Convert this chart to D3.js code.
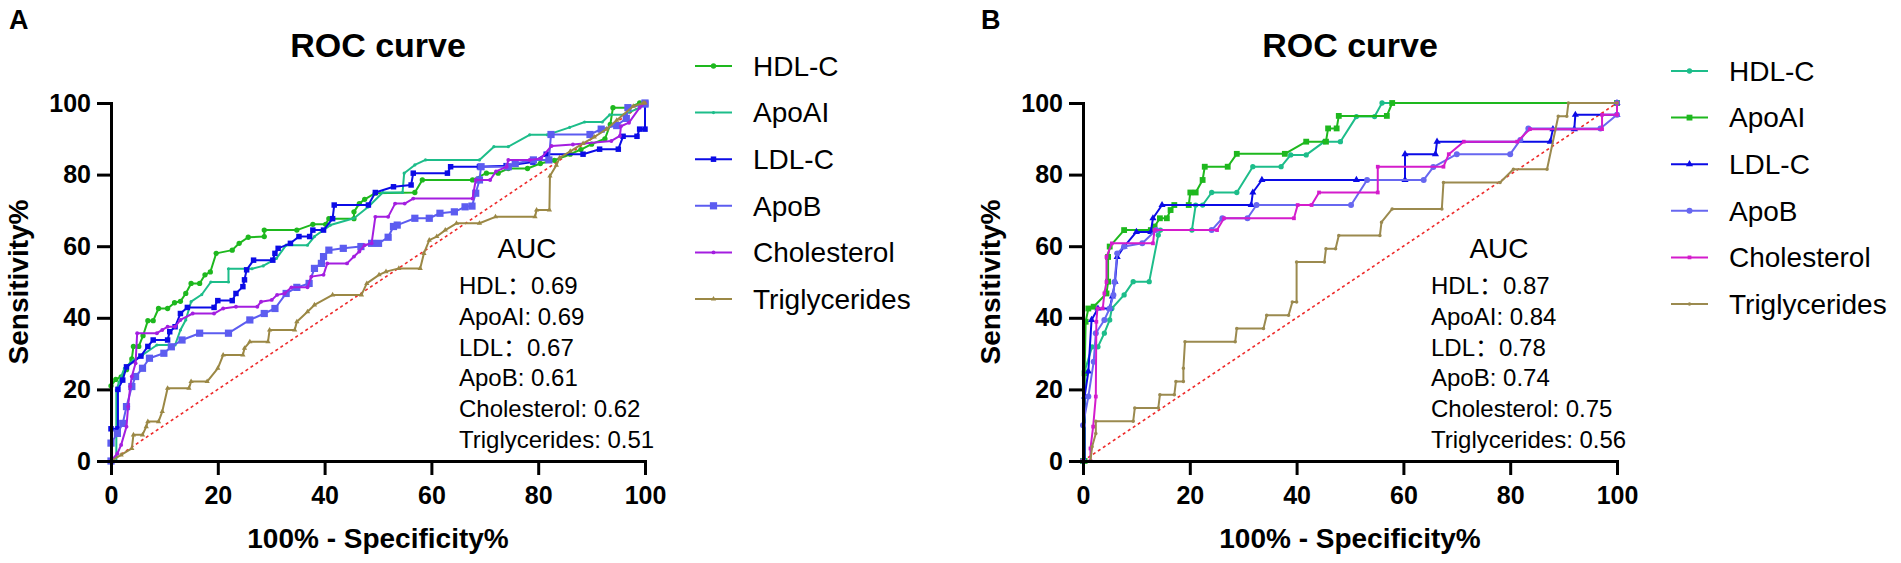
<!DOCTYPE html>
<html>
<head>
<meta charset="utf-8">
<script src="https://cdn.jsdelivr.net/npm/d3@7"></script>
<style>
  body { margin: 0; background: #fff; }
  svg text { font-family: "Liberation Sans", Arial, sans-serif; }
  svg text.auc { font-family: "Liberation Sans", "Noto Sans CJK SC", sans-serif; }
</style>
</head>
<body>
<div id="chart"></div>
<script>
// ---- data (x = 100% - specificity%, y = sensitivity%) ----
const seriesNames = ["HDL-C", "ApoAI", "LDL-C", "ApoB", "Cholesterol", "Triglycerides"];
const tickValues = [0, 20, 40, 60, 80, 100];

// panel A
const hdlA = [[0,0],[0,21],[0.9,22.8],[1.9,23.5],[2.9,25.5],[3.9,28.5],[4.2,32],[5.2,32],[6,35],[6.9,39.2],[7.9,39.2],[8.9,42.6],[10.6,42.6],[11.9,44.2],[13,44.6],[14,46.8],[15,49.6],[16.6,49.6],[17.6,52],[18.6,52.8],[19.7,58],[22.7,58.9],[24,60.8],[25.7,62.5],[28.7,62.7],[28.7,64.5],[34.8,64.5],[37.8,66.1],[40.2,66.1],[40.8,67.7],[45.5,67.7],[45.5,69.6],[46.5,71.9],[47.5,73.1],[49.5,74.8],[56.9,75],[58.3,78.5],[67.7,78.5],[70.3,80.4],[72.5,80.4],[74.4,81.7],[78,81.7],[80.4,83.1],[83,84],[86,85.7],[88,87],[90,88.5],[92.5,90],[93.5,94],[94,98.7],[97,98.7],[99,100],[100,100]];
const apoaiA = [[0,0],[1,0],[1,19.8],[1.5,22],[2.5,25.9],[4.2,28.2],[5.9,29.6],[8.6,32.4],[12,32.4],[13,36.6],[14,39.4],[15,44.5],[17,46.5],[18.7,50],[22,50],[22,53.7],[26.4,53.7],[28.5,54.5],[31,56.6],[32.8,60.3],[36.8,60.3],[38.1,62.7],[41.1,65.9],[45.5,67.8],[48.2,71],[50.9,75],[54.6,75],[54.9,80.4],[56.9,82.7],[58.9,84.1],[69,84.1],[71.7,87.8],[74.4,87.8],[78.4,91.1],[81.7,91.1],[85.9,93.2],[88.7,94.7],[92,94.7],[93.4,96.7],[96,96.7],[99,98.7],[100,100]];
const ldlA = [[0,0],[0,9],[1.3,9],[1.3,20],[2.2,22.6],[2.9,26.3],[5.6,29.3],[6.9,32],[7.9,33.8],[10.6,33.8],[11,36.1],[12,37.5],[13,41.2],[14.3,42.9],[19.3,42.9],[20,44.8],[22.7,44.8],[23.4,46.8],[24.7,48.7],[25,50.6],[25.4,53.4],[26.7,56.1],[30.3,56.1],[30.7,58],[31.3,59.4],[33.6,60.8],[35.2,62.7],[37.2,62.7],[37.8,64.5],[39.8,64.5],[41.5,67.7],[41.8,71.5],[48.2,71.5],[49.5,75],[52.9,76.6],[56.2,77.1],[56.6,80.4],[63,80.4],[63.6,82.2],[69,82.2],[74,82.5],[79,83.5],[81.5,85.7],[88.4,85.7],[91.5,87.1],[95,87.1],[95.9,90.7],[98.5,90.7],[99,92.7],[100,92.7],[100,100]];
const apobA = [[0,0],[0,5],[1.2,7.7],[2.2,10.5],[2.9,15.2],[3.9,20.8],[4.6,23.6],[5.9,25.9],[7.2,28.7],[9.9,30.1],[11.3,31.9],[13.3,33.8],[16.6,35.7],[22,35.7],[26,39.4],[28.7,41.2],[30.7,42.6],[32.8,46.8],[34.8,48.5],[37.1,49.6],[38.1,53.8],[39.4,55.2],[39.8,57.1],[40.8,58.9],[43.5,59.4],[46.8,59.9],[48.8,60.8],[50.1,60.8],[51.9,62.5],[52.9,65.5],[53.6,65.9],[56.9,67.8],[59.6,67.8],[61.6,69.2],[64.3,69.6],[66.3,71],[67.6,71.2],[68.3,74.8],[69,78.5],[69.3,82.2],[74.4,82.2],[75.7,83.1],[79.1,84.1],[82,84.1],[82.4,91.2],[89.7,91.2],[91.8,92.7],[94.7,93.7],[96.5,95.7],[96.8,98.7],[100,99.7],[100,100]];
const cholA = [[0,0],[1.2,2.1],[1.9,4.5],[2.9,9.6],[3.2,15.2],[3.6,20.8],[3.9,23.6],[4.6,27.3],[4.9,35.7],[8.6,35.7],[9.6,36.6],[10.6,37.5],[12,37.5],[13,39.4],[15.3,41.2],[19.3,41.2],[21,42.6],[23.4,43.1],[27.4,43.1],[28.1,44.5],[30.1,45],[31.1,46.4],[32.5,46.8],[33.8,48.5],[36.8,48.5],[37.5,51.5],[39.8,52],[40.5,55.2],[44.2,55.2],[45.5,57.1],[46.5,58.5],[47.5,60.3],[48.8,60.8],[49.5,68.2],[51.9,68.2],[53.2,71.9],[55,71.9],[56.6,73.3],[67.7,73.3],[68.3,78.5],[71,78.5],[72.1,80.9],[74.1,82.2],[74.4,84.1],[78.4,84.1],[80.5,84.5],[82.5,88],[86.5,88.4],[93.7,89.4],[95.3,90.8],[95.5,93.5],[97,94.5],[99,98.7],[100,100]];
const trigA = [[0,0],[1.9,1.7],[3.9,3.5],[4.2,7.3],[5.9,7.3],[6.6,9.6],[6.9,11],[8.9,11],[9.6,13.8],[10.6,20.3],[14.6,20.3],[15,22.2],[18,22.2],[20,25.9],[21,29.6],[24.7,29.6],[25,31.5],[26,33.3],[29.4,33.3],[29.7,36.6],[34.4,36.6],[34.8,38.9],[36.8,41.7],[38.1,43.6],[41.5,46.4],[46.9,46.4],[47.9,49.6],[50.2,52],[51.5,52.9],[53.9,53.8],[57.9,53.8],[58.6,58],[59.6,61.7],[61,62.7],[62.6,64.5],[64.7,66.4],[69,66.4],[72,68.2],[79.4,68.2],[79.7,70.1],[82.1,70.1],[82.2,79.6],[83.4,82.6],[84,84.7],[86,86.5],[88.4,88.7],[90.5,90.5],[92.8,92.7],[94.7,95.2],[97.8,99.1],[99.7,100],[100,100]];
const aucA = ["HDL\uFF1A0.69", "ApoAI: 0.69", "LDL\uFF1A0.67", "ApoB: 0.61", "Cholesterol: 0.62", "Triglycerides: 0.51"];

// panel B
const hdlB = [[0,0],[0.3,0],[0.3,25],[1.7,31.9],[2.8,31.9],[4,35.7],[5,39.4],[5.4,42.6],[7.7,46.4],[9.4,50.1],[12.4,50.1],[14.1,63.1],[14.5,64.5],[20.4,64.5],[21.1,71.5],[22.4,71.5],[24.1,75],[28.8,75],[31.8,82.2],[37.1,82.2],[38.9,85.5],[41.8,85.5],[45.2,89.2],[48.2,89.2],[51.2,96.2],[54.6,96.2],[56,100],[100,100]];
const apoaiB = [[0,0],[0.3,0],[0.3,24.5],[0.5,38.9],[1,42.6],[2,43.1],[4.4,46.8],[4.7,50.1],[4.7,57],[5,59.9],[7.7,64.5],[12.7,64.5],[13.4,65.5],[14.4,67.8],[15.7,67.8],[16.4,70.1],[17.1,71.5],[19.8,71.5],[20.1,75],[21.1,75],[22.4,78.5],[22.8,82.2],[27.1,82.2],[28.8,85.8],[37.8,85.8],[41.8,89.2],[45.5,89.2],[45.9,92.9],[47.5,92.9],[47.9,96.4],[56.9,96.4],[57.9,100],[100,100]];
const ldlB = [[0,0],[0.3,0],[0.3,18],[1,25],[1.6,39.4],[2.8,42.6],[5,42.6],[5.5,46],[6,50.1],[6.4,57],[7.7,59.9],[10,64],[12.7,64],[13.1,67.8],[14.8,71.5],[31.5,71.5],[31.8,75],[33.5,78.5],[51.2,78.5],[60.3,78.5],[60.3,85.7],[66,85.7],[66.3,89.2],[87.5,89.2],[88,92.7],[92,92.7],[92.2,96.7],[100,96.7],[100,100]];
const apobB = [[0,0],[0,10],[1,18],[2,27.7],[2.4,35.7],[4,39.4],[5,42.6],[5.7,46.4],[5.9,50],[6.4,58],[7.7,59.9],[11.1,60.8],[13.7,64.5],[24.1,64.5],[26.1,67.8],[30.8,67.8],[32.5,71.5],[50.2,71.5],[53.2,78.5],[63.8,78.5],[65.6,82.1],[70,85.7],[80,85.7],[81.9,89.7],[83.4,92.9],[96.9,92.9],[100,96.7],[100,100]];
const cholB = [[0,0],[1.4,0],[1.4,3.5],[1.9,9.6],[2.4,18],[2.5,38.9],[2.7,42.6],[3.7,42.6],[4,46.8],[4.4,50],[4.4,57],[5.4,60.8],[13.1,60.8],[13.4,64.5],[25.1,64.5],[26.4,67.8],[39.5,67.8],[40.2,71.5],[42.8,71.5],[44.2,75],[55.2,75],[55.2,82.2],[67.5,82.2],[68.5,85.7],[71.3,89.2],[81.3,89.2],[83.7,92.7],[97.2,92.7],[97.2,96.7],[100,96.7],[100,100]];
const trigB = [[0,0],[1.4,0],[1.7,4],[2.4,7.7],[2.4,11.1],[9.4,11.1],[9.7,14.8],[14.1,14.8],[14.4,18.5],[17.1,18.5],[17.4,22.2],[18.8,22.2],[18.8,25.9],[19.1,33.3],[28.5,33.3],[28.8,37],[33.8,37],[34.4,40.7],[38.5,40.7],[39.2,44.4],[40,44.4],[40,55.6],[45.2,55.6],[45.5,59.3],[47.3,59.3],[47.9,63],[55.6,63],[55.9,66.7],[57.9,70.4],[67.2,70.4],[67.5,77.8],[78.1,77.8],[80.6,81.5],[86.9,81.5],[89,96.3],[90.6,96.3],[90.9,100],[100,100]];
const aucB = ["HDL\uFF1A0.87", "ApoAI: 0.84", "LDL\uFF1A0.78", "ApoB: 0.74", "Cholesterol: 0.75", "Triglycerides: 0.56"];

// ---- styles ----
const colorsA = ["#1eb81e", "#1dbd8a", "#0b0be6", "#5c5cf0", "#a41ee0", "#9b8845"];
const colorsB = ["#1dbd8a", "#1eb81e", "#0b0be6", "#6767f0", "#d41ccc", "#9b8a4f"];
const symbolsA = [[d3.symbolCircle, 22], [d3.symbolCircle, 8], [d3.symbolSquare, 30], [d3.symbolSquare, 52], [d3.symbolCircle, 12], [d3.symbolTriangle, 12]];
const symbolsB = [[d3.symbolCircle, 22], [d3.symbolSquare, 34], [d3.symbolTriangle, 22], [d3.symbolCircle, 28], [d3.symbolSquare, 14], [d3.symbolCircle, 10]];

const panels = [
  { letter: "A", x0: 111, series: [hdlA, apoaiA, ldlA, apobA, cholA, trigA], auc: aucA,
    colors: colorsA, symbols: symbolsA, legX: 584, legTextX: 642, legY: 66 },
  { letter: "B", x0: 1083, series: [hdlB, apoaiB, ldlB, apobB, cholB, trigB], auc: aucB,
    colors: colorsB, symbols: symbolsB, legX: 588, legTextX: 646, legY: 71 }
];

const W = 1901, H = 563;
const plotW = 534, yBottom = 461, yTop = 103;

const svg = d3.select("#chart").append("svg")
  .attr("width", W).attr("height", H);

panels.forEach(p => {
  const g = svg.append("g");
  const x = d3.scaleLinear().domain([0, 100]).range([p.x0, p.x0 + plotW]);
  const y = d3.scaleLinear().domain([0, 100]).range([yBottom, yTop]);
  const cx = p.x0 + plotW / 2;

  // panel letter and title
  g.append("text").attr("x", p.x0 - 102).attr("y", 29)
    .attr("font-size", 27).attr("font-weight", "bold").text(p.letter);
  g.append("text").attr("x", cx).attr("y", 57).attr("text-anchor", "middle")
    .attr("font-size", 34).attr("font-weight", "bold").text("ROC curve");

  // reference diagonal
  g.append("line")
    .attr("x1", x(0)).attr("y1", y(0)).attr("x2", x(100)).attr("y2", y(100))
    .attr("stroke", "#ee2a2a").attr("stroke-width", 1.6).attr("stroke-dasharray", "3,3");

  // curves
  const line = d3.line().x(d => x(d[0])).y(d => y(d[1]));
  p.series.forEach((s, i) => {
    const col = p.colors[i];
    g.append("path").datum(s)
      .attr("d", line).attr("fill", "none")
      .attr("stroke", col).attr("stroke-width", 2).attr("stroke-linejoin", "round");
    const sym = d3.symbol().type(p.symbols[i][0]).size(p.symbols[i][1]);
    g.append("g").selectAll("path").data(s).join("path")
      .attr("d", sym)
      .attr("transform", d => `translate(${x(d[0])},${y(d[1])})`)
      .attr("fill", col);
  });

  // axes
  const xAxis = g.append("g").attr("transform", `translate(0,${yBottom})`)
    .call(d3.axisBottom(x).tickValues(tickValues).tickSize(14).tickSizeOuter(0).tickPadding(11));
  const yAxis = g.append("g").attr("transform", `translate(${p.x0},0)`)
    .call(d3.axisLeft(y).tickValues(tickValues).tickSize(14).tickSizeOuter(0).tickPadding(6));
  [xAxis, yAxis].forEach(a => {
    a.attr("font-family", null).attr("font-size", 25).attr("font-weight", "bold");
    a.select(".domain").attr("stroke", "#000").attr("stroke-width", 3).attr("stroke-linecap", "square");
    a.selectAll(".tick line").attr("stroke", "#000").attr("stroke-width", 3);
    a.selectAll(".tick text").attr("fill", "#000");
  });

  // axis titles
  g.append("text").attr("x", cx).attr("y", 548).attr("text-anchor", "middle")
    .attr("font-size", 28).attr("font-weight", "bold").text("100% - Specificity%");
  g.append("text")
    .attr("transform", `translate(${p.x0 - 83},${(yBottom + yTop) / 2}) rotate(-90)`)
    .attr("text-anchor", "middle")
    .attr("font-size", 28).attr("font-weight", "bold").text("Sensitivity%");

  // AUC block
  g.append("text").attr("x", p.x0 + 416).attr("y", 258).attr("text-anchor", "middle")
    .attr("font-size", 28).text("AUC");
  g.append("g").selectAll("text").data(p.auc).join("text")
    .attr("class", "auc")
    .attr("x", p.x0 + 348).attr("y", (d, i) => 294 + i * 30.8)
    .attr("font-size", 24).text(d => d);

  // legend
  const leg = g.append("g").selectAll("g").data(seriesNames).join("g")
    .attr("transform", (d, i) => `translate(${p.x0},${p.legY + i * 46.6})`);
  leg.append("line").attr("x1", p.legX).attr("x2", p.legX + 37)
    .attr("stroke", (d, i) => p.colors[i]).attr("stroke-width", 2);
  leg.append("path")
    .attr("d", (d, i) => d3.symbol().type(p.symbols[i][0]).size(p.symbols[i][1])())
    .attr("transform", `translate(${p.legX + 18.5},0)`)
    .attr("fill", (d, i) => p.colors[i]);
  leg.append("text").attr("x", p.legTextX).attr("dy", "0.35em")
    .attr("font-size", 28).text(d => d);
});
</script>
</body>
</html>
